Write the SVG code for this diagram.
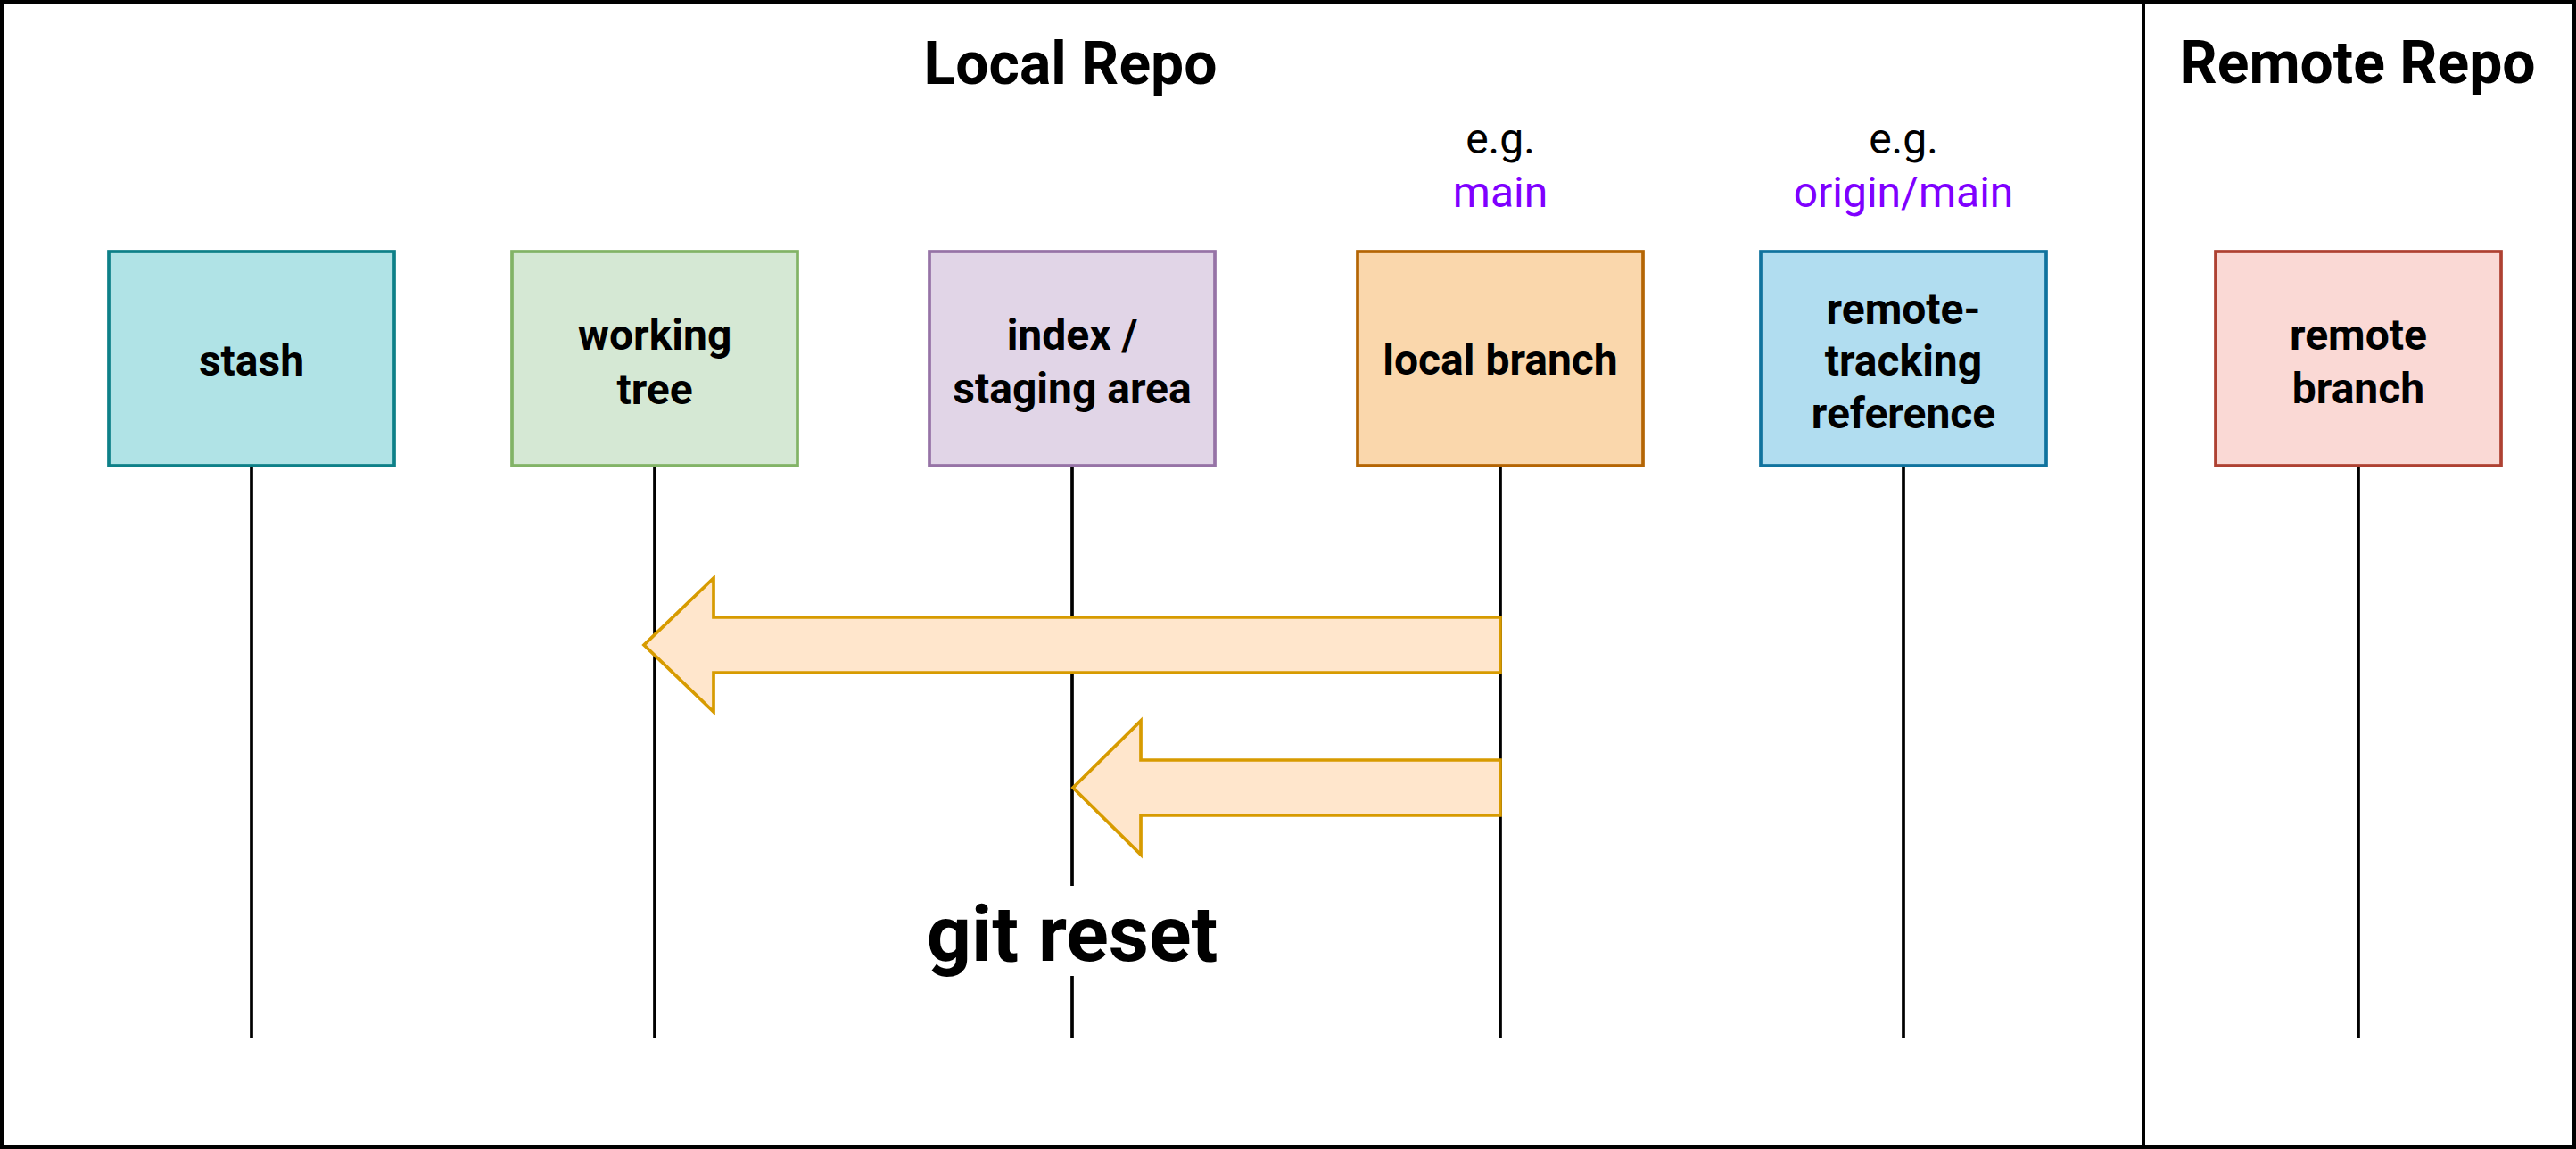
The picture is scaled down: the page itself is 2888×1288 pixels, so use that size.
<svg xmlns="http://www.w3.org/2000/svg" width="2888" height="1288" viewBox="0 0 2888 1288">
<style>
text{font-family:Roboto,"Noto Sans","DejaVu Sans",sans-serif;text-anchor:middle;fill:#000}
.title{font-size:66px;font-weight:bold}
.lbl{font-size:48px;font-weight:bold}
.eg{font-size:48px}
.ref{fill:#7f00ff}
.cmd{font-size:88px;font-weight:bold}
.box{stroke-width:3.7}
.life{stroke:#000;stroke-width:3.7;fill:none}
.arrow{fill:#ffe6cc;stroke:#d79b00;stroke-width:3.7;stroke-linejoin:miter}
</style>
<rect x="0" y="0" width="2888" height="1288" fill="#fff"/>
<g id="frame">
<rect x="2" y="2" width="2884" height="1284" fill="none" stroke="#000" stroke-width="4"/>
<line x1="2403" y1="2" x2="2403" y2="1286" stroke="#000" stroke-width="4"/>
<text class="title" x="1200" y="94">Local Repo</text>
<text class="title" x="2643" y="93">Remote Repo</text>
</g>
<g id="connectors">
<line class="life" x1="282" y1="522" x2="282" y2="1164"/>
<line class="life" x1="734" y1="522" x2="734" y2="1164"/>
<line class="life" x1="1202" y1="522" x2="1202" y2="1164"/>
<line class="life" x1="1682" y1="522" x2="1682" y2="1164"/>
<line class="life" x1="2134" y1="522" x2="2134" y2="1164"/>
<line class="life" x1="2644" y1="522" x2="2644" y2="1164"/>
<polygon class="arrow" points="1682,692 800,692 800,648 722,723 800,798 800,754 1682,754"/>
<polygon class="arrow" points="1682,852 1279,852 1279,808 1203,883 1279,958 1279,914 1682,914"/>
</g>
<g id="label-git-reset">
<rect x="1030" y="993" width="345" height="101" fill="#fff"/>
<text class="cmd" x="1202" y="1077">git reset</text>
</g>
<g id="stash">
<rect class="box" x="122" y="282" width="320" height="240" fill="#b0e3e6" stroke="#0e8088"/>
<text class="lbl" x="282" y="421">stash</text>
</g>
<g id="working-tree">
<rect class="box" x="574" y="282" width="320" height="240" fill="#d5e8d4" stroke="#82b366"/>
<text class="lbl" x="734" y="392">working</text>
<text class="lbl" x="734" y="453">tree</text>
</g>
<g id="index">
<rect class="box" x="1042" y="282" width="320" height="240" fill="#e1d5e7" stroke="#9673a6"/>
<text class="lbl" x="1202" y="392">index /</text>
<text class="lbl" x="1202" y="452">staging area</text>
</g>
<g id="local-branch">
<text class="eg" x="1682" y="172">e.g.</text>
<text class="eg ref" x="1682" y="232">main</text>
<rect class="box" x="1522" y="282" width="320" height="240" fill="#fad7ac" stroke="#b46504"/>
<text class="lbl" x="1682" y="420">local branch</text>
</g>
<g id="remote-tracking">
<text class="eg" x="2134" y="172">e.g.</text>
<text class="eg ref" x="2134" y="232">origin/main</text>
<rect class="box" x="1974" y="282" width="320" height="240" fill="#b1ddf0" stroke="#10739e"/>
<text class="lbl" x="2134" y="363">remote-</text>
<text class="lbl" x="2134" y="421">tracking</text>
<text class="lbl" x="2134" y="480">reference</text>
</g>
<g id="remote-branch">
<rect class="box" x="2484" y="282" width="320" height="240" fill="#fad9d5" stroke="#ae4132"/>
<text class="lbl" x="2644" y="392">remote</text>
<text class="lbl" x="2644" y="452">branch</text>
</g>
</svg>
